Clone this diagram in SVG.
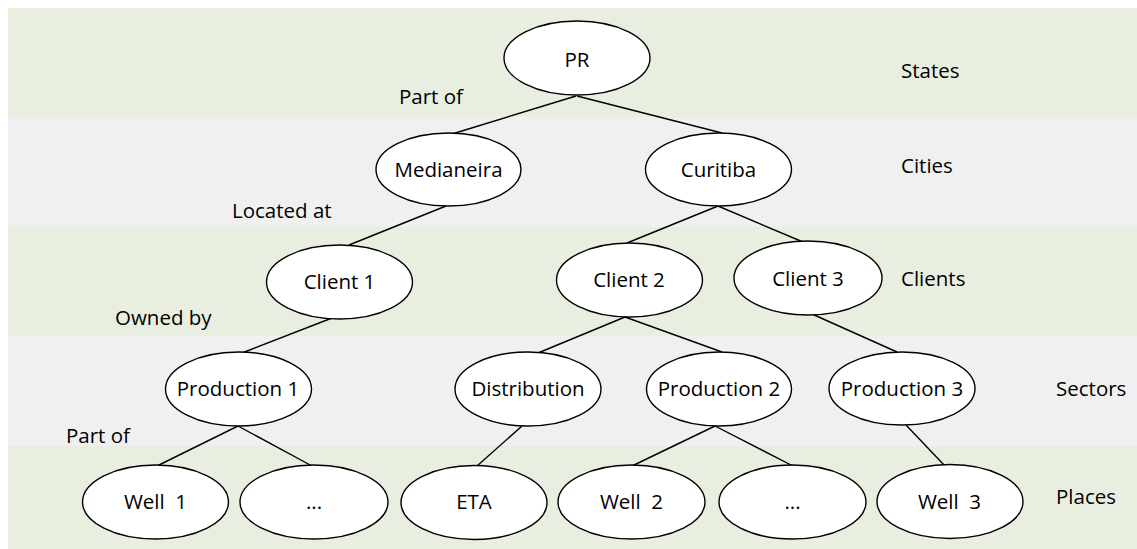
<svg xmlns="http://www.w3.org/2000/svg" width="1137" height="549" viewBox="0 0 1137 549">
<style>
.bg{fill:#ffffff}
.g{fill:#E9EFE0}
.s{fill:#F0F0F0}
.n ellipse{fill:#ffffff;stroke:#000;stroke-width:1.4}
text{font-family:"Open Sans","Liberation Sans",sans-serif;font-size:20.5px;font-weight:500;fill:#000;white-space:pre}
.n text{text-anchor:middle}
#edges line{stroke:#000;stroke-width:1.4}
</style>
<rect class="bg" x="0" y="0" width="1137" height="549"/>
<g id="bands">
<rect class="g" x="8" y="8" width="1129" height="109"/>
<rect class="s" x="8" y="117" width="1129" height="110"/>
<rect class="g" x="8" y="227" width="1129" height="109"/>
<rect class="s" x="8" y="336" width="1129" height="110"/>
<rect class="g" x="8" y="446" width="1129" height="103"/>
</g>
<g id="edges">
<line x1="576" y1="96" x2="452" y2="134"/>
<line x1="577" y1="96" x2="722" y2="133"/>
<line x1="446" y1="206" x2="349" y2="245"/>
<line x1="718" y1="206" x2="627" y2="243"/>
<line x1="718" y1="206" x2="803" y2="242"/>
<line x1="332" y1="318" x2="242" y2="353"/>
<line x1="625" y1="317" x2="538" y2="353"/>
<line x1="625" y1="317" x2="722" y2="352"/>
<line x1="812" y1="314" x2="897" y2="352"/>
<line x1="238" y1="426" x2="157" y2="466"/>
<line x1="238" y1="426" x2="312" y2="466"/>
<line x1="522" y1="426" x2="477" y2="466"/>
<line x1="715" y1="426" x2="632" y2="466"/>
<line x1="715" y1="426" x2="793" y2="466"/>
<line x1="906" y1="425" x2="945" y2="466"/>
</g>
<g id="labels">
<text x="399" y="104">Part of</text>
<text x="232" y="218">Located at</text>
<text x="115" y="325">Owned by</text>
<text x="66" y="443">Part of</text>
<text x="901" y="78">States</text>
<text x="901" y="173">Cities</text>
<text x="901" y="286">Clients</text>
<text x="1056" y="396">Sectors</text>
<text x="1056" y="504">Places</text>
</g>
<g id="n-pr" class="n"><ellipse cx="577" cy="58" rx="73" ry="37"/><text x="577" y="67">PR</text></g>
<g id="n-medianeira" class="n"><ellipse cx="448.5" cy="169.5" rx="72.5" ry="36.5"/><text x="448.5" y="177">Medianeira</text></g>
<g id="n-curitiba" class="n"><ellipse cx="718.5" cy="169.5" rx="73" ry="36.5"/><text x="718.5" y="177">Curitiba</text></g>
<g id="n-client1" class="n"><ellipse cx="339.5" cy="282" rx="73" ry="37"/><text x="339.5" y="288.5">Client 1</text></g>
<g id="n-client2" class="n"><ellipse cx="629.5" cy="280" rx="73" ry="37"/><text x="629" y="287">Client 2</text></g>
<g id="n-client3" class="n"><ellipse cx="808" cy="278" rx="74" ry="37"/><text x="808" y="286">Client 3</text></g>
<g id="n-production1" class="n"><ellipse cx="238.5" cy="389" rx="73" ry="37"/><text x="238" y="396">Production 1</text></g>
<g id="n-distribution" class="n"><ellipse cx="528" cy="389" rx="73" ry="37"/><text x="528" y="396">Distribution</text></g>
<g id="n-production2" class="n"><ellipse cx="719" cy="389" rx="72.5" ry="37"/><text x="719" y="396">Production 2</text></g>
<g id="n-production3" class="n"><ellipse cx="902" cy="388.5" rx="73" ry="36.5"/><text x="902" y="396">Production 3</text></g>
<g id="n-well1" class="n"><ellipse cx="155.5" cy="502" rx="73" ry="37"/><text x="155.5" y="509">Well  1</text></g>
<g id="n-dots1" class="n"><ellipse cx="314" cy="502" rx="74" ry="37"/><text x="314" y="509">...</text></g>
<g id="n-eta" class="n"><ellipse cx="474" cy="502.5" rx="73" ry="37"/><text x="474" y="509">ETA</text></g>
<g id="n-well2" class="n"><ellipse cx="631.5" cy="502" rx="73.5" ry="37"/><text x="631.5" y="509">Well  2</text></g>
<g id="n-dots2" class="n"><ellipse cx="792.5" cy="502" rx="73.5" ry="37"/><text x="792.5" y="509">...</text></g>
<g id="n-well3" class="n"><ellipse cx="950" cy="501.5" rx="73" ry="37"/><text x="949.5" y="508.5">Well  3</text></g>
</svg>
